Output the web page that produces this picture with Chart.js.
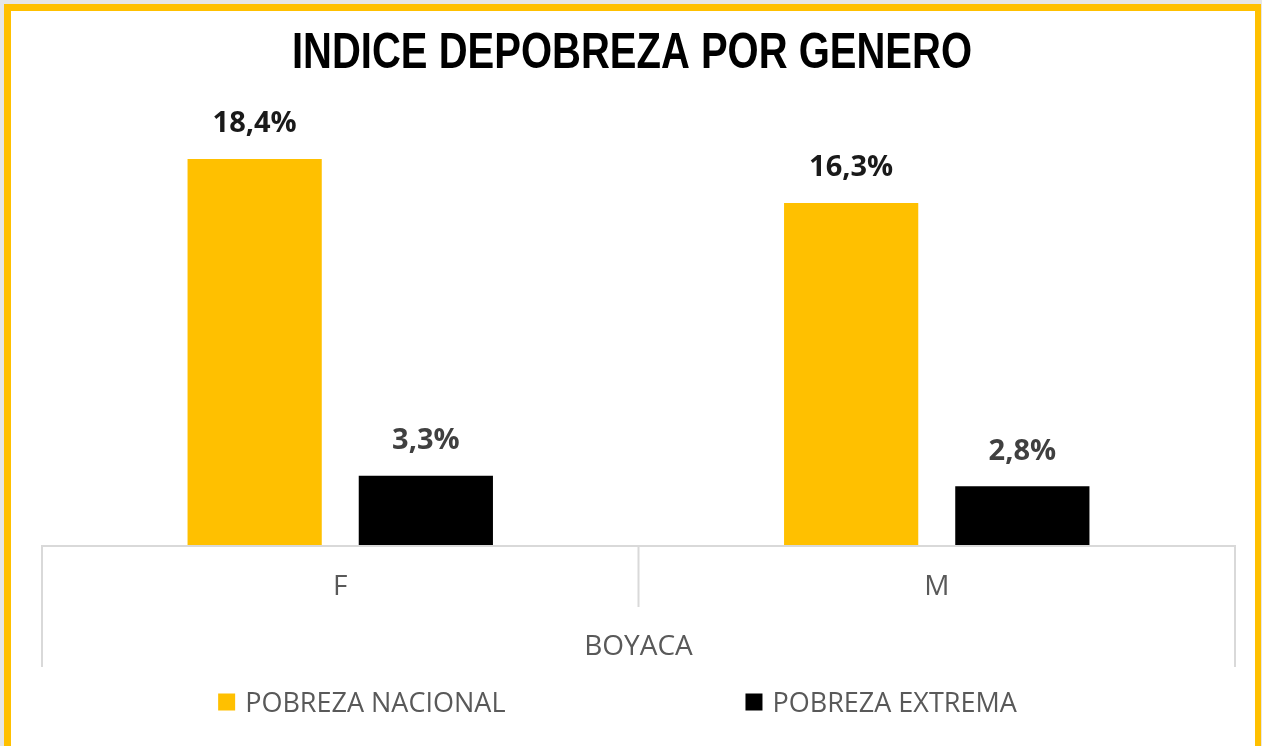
<!DOCTYPE html>
<html>
<head>
<meta charset="utf-8">
<script src="https://cdn.jsdelivr.net/npm/chart.js@4"></script>
<style>
  html, body { margin: 0; padding: 0; background: #e6e6e6; overflow: hidden; width: 1262px; height: 746px; }
  #frame { position: absolute; left: 4px; top: 4px; width: 1244px; height: 760px;
           border: 7px solid #FFC000; border-right-width: 6px; background: #ffffff; }
  #wrap { position: absolute; left: 0; top: 0; width: 1244px; height: 735px; }
</style>
</head>
<body>
<div id="frame"><div id="wrap"><canvas id="c"></canvas></div></div>
<script>
const titleText = 'INDICE DEPOBREZA POR GENERO';
const categories = ['F', 'M'];
const groupLabel = 'BOYACA';
const seriesNames = ['POBREZA NACIONAL', 'POBREZA EXTREMA'];
const pobrezaNacional = [18.4, 16.3];
const pobrezaExtrema = [3.3, 2.8];
const seriesColors = ['#FFC000', '#000000'];
const labelColors = ['#1a1a1a', '#404040'];

const fmt = v => v.toFixed(1).replace('.', ',') + '%';

const GRID = '#d9d9d9';

// Narrow bold title (Arial Narrow look): Liberation Sans Bold compressed horizontally
const narrowTitle = {
  id: 'narrowTitle',
  afterDraw(chart) {
    const {ctx, width} = chart;
    ctx.save();
    ctx.font = 'bold 50px "Liberation Sans", Arial, sans-serif';
    ctx.textAlign = 'center';
    ctx.textBaseline = 'alphabetic';
    ctx.fillStyle = '#000000';
    ctx.translate(width / 2 - 1, 57);
    ctx.scale(0.80, 1);
    ctx.fillText(titleText, 0, 0);
    ctx.restore();
  }
};

const separators = {
  id: 'separators',
  afterDatasetsDraw(chart) {
    const {ctx, chartArea} = chart;
    const xs = chart.scales.x;
    const b = chartArea.bottom;
    ctx.save();
    ctx.strokeStyle = GRID;
    ctx.lineWidth = 2;
    ctx.beginPath();
    ctx.moveTo(chartArea.left - 1, b + 1);
    ctx.lineTo(chartArea.right + 1, b + 1);
    const mid = (xs.getPixelForValue(0) + xs.getPixelForValue(1)) / 2;
    ctx.moveTo(chartArea.left, b);
    ctx.lineTo(chartArea.left, b + 122);
    ctx.moveTo(chartArea.right, b);
    ctx.lineTo(chartArea.right, b + 122);
    ctx.moveTo(mid, b);
    ctx.lineTo(mid, b + 62);
    ctx.stroke();
    ctx.restore();
  }
};

const valueLabels = {
  id: 'valueLabels',
  afterDatasetsDraw(chart) {
    const {ctx} = chart;
    ctx.save();
    ctx.font = 'bold 29px "Open Sans", sans-serif';
    ctx.textAlign = 'center';
    ctx.textBaseline = 'middle';
    chart.data.datasets.forEach((ds, i) => {
      const meta = chart.getDatasetMeta(i);
      meta.data.forEach((bar, j) => {
        ctx.fillStyle = labelColors[i];
        ctx.fillText(fmt(ds.data[j]), bar.x, bar.y - 35);
      });
    });
    ctx.restore();
  }
};

const customLegend = {
  id: 'customLegend',
  afterDraw(chart) {
    const {ctx, chartArea} = chart;
    ctx.save();
    ctx.font = '27px "Open Sans", sans-serif';
    ctx.textBaseline = 'middle';
    const box = 17, gapText = 10, gapItems = 240;
    const items = chart.data.datasets.map(ds => ({
      label: ds.label, color: ds.backgroundColor,
      w: box + gapText + ctx.measureText(ds.label).width
    }));
    const total = items.reduce((s, it) => s + it.w, 0) + gapItems * (items.length - 1);
    const center = (chartArea.left + chartArea.right) / 2 - 21;
    let x = center - total / 2;
    const y = chartArea.bottom + 158;
    items.forEach(it => {
      ctx.fillStyle = it.color;
      ctx.fillRect(x, y - box / 2 - 1, box, box);
      ctx.fillStyle = '#595959';
      ctx.fillText(it.label, x + box + gapText, y + 1);
      x += it.w + gapItems;
    });
    ctx.restore();
  }
};

new Chart(document.getElementById('c'), {
  type: 'bar',
  data: {
    labels: categories,
    datasets: [
      { label: seriesNames[0], data: pobrezaNacional, backgroundColor: seriesColors[0] },
      { label: seriesNames[1], data: pobrezaExtrema, backgroundColor: seriesColors[1] }
    ]
  },
  options: {
    responsive: true,
    maintainAspectRatio: false,
    animation: false,
    datasets: { bar: { categoryPercentage: 0.574, barPercentage: 0.784 } },
    layout: { padding: { left: 31, right: 20, top: 114.4, bottom: 71 } },
    plugins: {
      legend: { display: false },
      tooltip: { enabled: false },
      title: { display: false }
    },
    scales: {
      x: {
        grid: { display: false, drawTicks: false },
        border: { display: false },
        ticks: { color: '#595959', padding: 25, font: { family: '"Open Sans", sans-serif', size: 28, lineHeight: 1.2 } },
        title: { display: true, text: groupLabel, color: '#595959',
                 font: { family: '"Open Sans", sans-serif', size: 28, lineHeight: 1.2 },
                 padding: { top: 0, bottom: 10.7 } },
        afterFit(scale) { scale.height = 130; }
      },
      y: { display: false, min: 0, max: 20 }
    }
  },
  plugins: [narrowTitle, separators, valueLabels, customLegend]
});
</script>
</body>
</html>
